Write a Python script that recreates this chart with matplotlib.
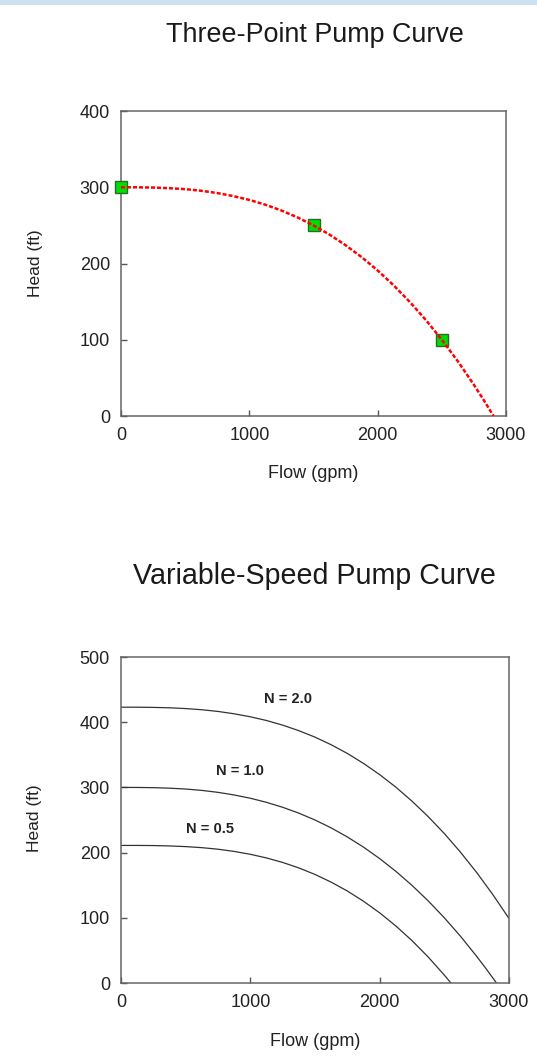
import matplotlib
matplotlib.use("Agg")
import matplotlib.pyplot as plt
from matplotlib.patches import Rectangle

plt.rcParams['font.family'] = ['Liberation Sans', 'DejaVu Sans']

# ---- data: three-point pump curve ----
pts_flow = [0, 1500, 2500]
pts_head = [300, 250, 100]
curve_flow = [0, 125, 250, 375, 500, 625, 750, 875, 1000, 1125, 1250, 1375, 1500,
              1625, 1750, 1875, 2000, 2125, 2250, 2375, 2500, 2625, 2750, 2825, 2903]
curve_head = [300, 299.9, 299.6, 298.8, 297.5, 295.4, 292.4, 288.4, 283.4, 277.1, 269.5,
              260.5, 250, 237.9, 224.0, 208.4, 190.8, 171.3, 149.7, 126.0, 100, 71.7,
              40.9, 21.3, 0]

# ---- data: variable-speed pump curves ----
n20_flow = [0, 125, 250, 375, 500, 625, 750, 875, 1000, 1125, 1250, 1375, 1500,
            1625, 1750, 1875, 2000, 2125, 2250, 2375, 2500, 2625, 2750, 2875, 3000]
n20_head = [423, 423.0, 422.7, 422.1, 420.9, 419.1, 416.5, 412.9, 408.3, 402.6, 395.5,
            387.0, 377.1, 365.4, 352.1, 336.8, 319.6, 300.4, 278.9, 255.2, 229.2, 200.6,
            169.5, 135.6, 99]
n10_flow = curve_flow
n10_head = curve_head
n05_flow = [0, 125, 250, 375, 500, 625, 750, 875, 1000, 1125, 1250, 1375, 1500,
            1625, 1750, 1875, 2000, 2125, 2250, 2375, 2500, 2551]
n05_head = [211, 211.0, 210.8, 210.2, 209.2, 207.6, 205.2, 201.8, 197.4, 191.8, 184.9,
            176.5, 166.5, 154.7, 141.1, 125.4, 107.6, 87.5, 65.0, 39.9, 12.1, 0]
speed_labels = ["N = 2.0", "N = 1.0", "N = 0.5"]
speed_label_x = [1294, 922, 691]
speed_label_y = [436, 325, 236]

W, H = 537, 1061
fig = plt.figure(figsize=(W / 100, H / 100), dpi=100)
fig.patch.set_facecolor('white')
fig.patches.append(Rectangle((0, 1 - 5 / H), 1, 5 / H, transform=fig.transFigure,
                             facecolor='#cddff0', edgecolor='none'))

def style(ax):
    for s in ax.spines.values():
        s.set_color('#666666')
        s.set_linewidth(1.1)
    ax.tick_params(direction='in', length=4, width=1.0, color='#555555',
                   labelsize=13, labelcolor='#222222', pad=8)
    ax.set_xlim(0, 3000)
    ax.set_xticks([0, 1000, 2000, 3000])

txtc = '#222222'

# ---- top chart ----
ax1 = fig.add_axes([121 / W, 1 - 416 / H, 385 / W, 305 / H])
style(ax1)
ax1.set_ylim(0, 400)
ax1.set_yticks([0, 100, 200, 300, 400])
ax1.plot(pts_flow, pts_head, linestyle='none', marker='s', markersize=9,
         markerfacecolor='#00dd00', markeredgecolor='#2a6a2a', markeredgewidth=1.0,
         clip_on=False, zorder=3)
ax1.plot(curve_flow, curve_head, color='#ff0000', linewidth=1.8,
         linestyle=(0, (1.6, 0.8)), zorder=4)
ax1.set_xlabel('Flow (gpm)', fontsize=13, color=txtc, va='center')
ax1.xaxis.set_label_coords(0.5, -0.19)
ax1.set_ylabel('Head (ft)', fontsize=12.5, color=txtc, va='center')
ax1.yaxis.set_label_coords(-0.223, 0.5)
fig.text(314.5 / W, 1 - 35 / H, 'Three-Point Pump Curve', fontsize=19.4,
         color='#1a1a1a', ha='center', va='center')

# ---- bottom chart ----
ax2 = fig.add_axes([121 / W, 1 - 983 / H, 388 / W, 326 / H])
style(ax2)
ax2.set_ylim(0, 500)
ax2.set_yticks([0, 100, 200, 300, 400, 500])
for fx, fy in [(n20_flow, n20_head), (n10_flow, n10_head), (n05_flow, n05_head)]:
    ax2.plot(fx, fy, color='#333333', linewidth=0.9)
for lab, lx, ly in zip(speed_labels, speed_label_x, speed_label_y):
    ax2.text(lx, ly, lab, fontsize=10.5, fontweight='bold', color='#222222',
             ha='center', va='center')
ax2.set_xlabel('Flow (gpm)', fontsize=13, color=txtc, va='center')
ax2.xaxis.set_label_coords(0.5, -0.178)
ax2.set_ylabel('Head (ft)', fontsize=12.5, color=txtc, va='center')
ax2.yaxis.set_label_coords(-0.222, 0.506)
fig.text(314.5 / W, 1 - 576 / H, 'Variable-Speed Pump Curve', fontsize=20.6,
         color='#1a1a1a', ha='center', va='center')

fig.savefig('out.png', dpi=100, facecolor='white')
